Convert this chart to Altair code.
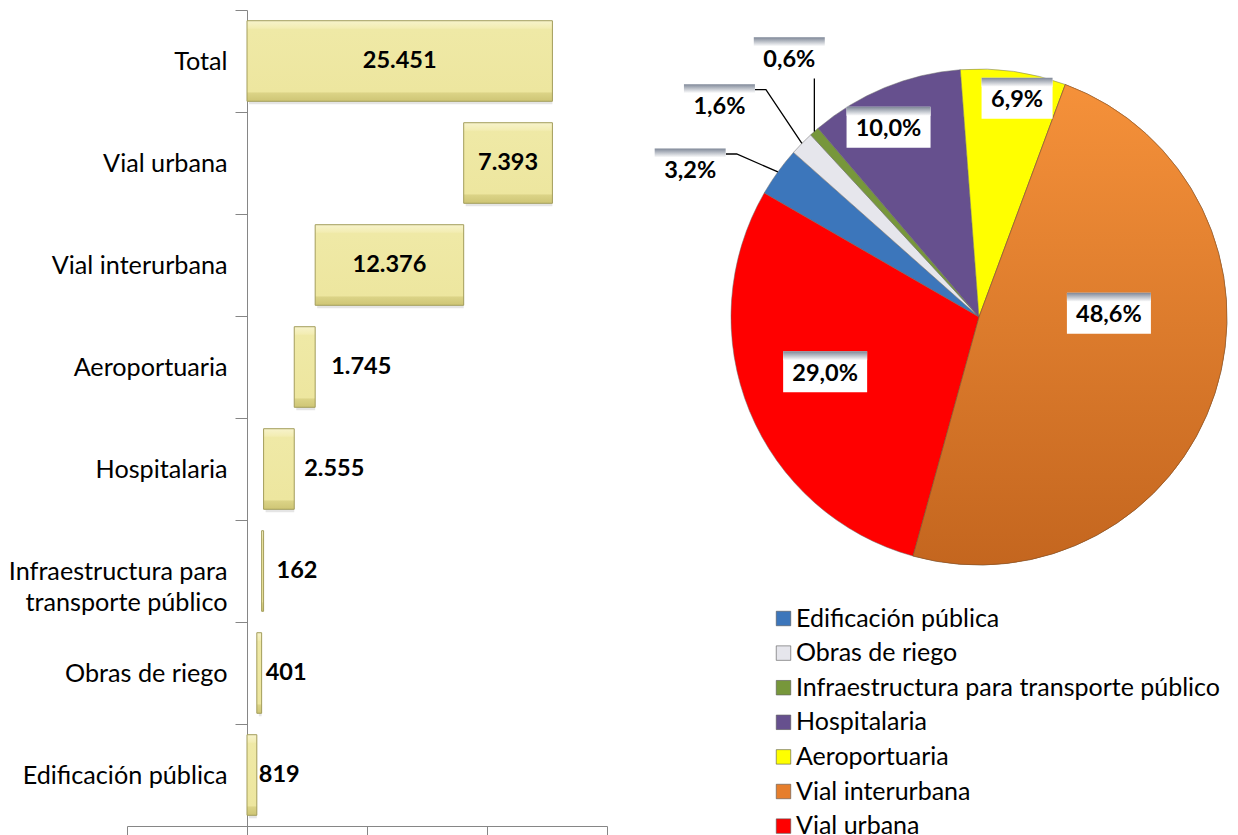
import math
import altair as alt
import pandas as pd

# ---------------- data ----------------
CATS = ["Edificación pública", "Obras de riego", "Infraestructura para transporte público",
        "Hospitalaria", "Aeroportuaria", "Vial interurbana", "Vial urbana"]
VALUES = [819, 401, 162, 2555, 1745, 12376, 7393]
TOTAL_NAME = "Total"
TOTAL = 25451
PIE_COLORS = ["#3C76BB", "#E6E6EC", "#77973B", "#66508E", "#FFFF00", "#E67E2C", "#FF0000"]
X_TICKS = [-10000, 0, 10000, 20000, 30000]

# ---------------- layout / style ----------------
FONT = "Lato"
AXIS_FS = 25.2
LEG_FS = 25
VAL_FS = 23.5
W1, H1 = 480, 816
SPACING = 122
XDOM = [-10000, 30000]
PPU = W1 / (XDOM[1] - XDOM[0])
INSIDE_MIN_PX = 80
OUT_DX_PX = {"Edificación pública": 2, "Obras de riego": 4,
             "Infraestructura para transporte público": 13,
             "Hospitalaria": 10, "Aeroportuaria": 16}
W2, H2 = 500, 614
R = 248
START_DEG = 300
# label placement: (angle shift from slice middle in degrees, radius in px)
LABEL_POLAR = {"Edificación pública": (-8.5, 325), "Obras de riego": (-5, 336),
               "Infraestructura para transporte público": (5.5, 322),
               "Hospitalaria": (-3, 211), "Aeroportuaria": (1.8, 223),
               "Vial interurbana": (-20, 130), "Vial urbana": (3, 163)}
OUTER = ["Edificación pública", "Obras de riego", "Infraestructura para transporte público"]


def fmt_thousands(v):
    return f"{v:,}".replace(",", ".")


# ---------------- waterfall ----------------
rows = []
cum = 0
for c, v in zip(CATS, VALUES):
    rows.append({"cat": c, "start": cum, "end": cum + v, "value": v})
    cum += v
rows.append({"cat": TOTAL_NAME, "start": 0, "end": TOTAL, "value": TOTAL})
wf = pd.DataFrame(rows)
wf["label"] = wf["value"].map(fmt_thousands)
wf["inside"] = (wf["end"] - wf["start"]) * PPU > INSIDE_MIN_PX
wf["lx"] = [
    (s + e) / 2 if ins else e + OUT_DX_PX.get(c, 6) / PPU
    for s, e, ins, c in zip(wf["start"], wf["end"], wf["inside"], wf["cat"])
]

ORDER = [TOTAL_NAME] + CATS[::-1]
AX = "#868686"

y_enc = alt.Y(
    "cat:N", sort=ORDER, title=None,
    scale=alt.Scale(paddingInner=0, paddingOuter=0),
    axis=alt.Axis(offset=-120, tickBand="extent", tickSize=12, labelPadding=8,
                  labelFontSize=AXIS_FS, labelFont=FONT, labelColor="#000000",
                  domainColor=AX, tickColor=AX, labelLimit=400, labelLineHeight=31,
                  labelExpr="datum.label == 'Infraestructura para transporte público' ? "
                            "['Infraestructura para', 'transporte público'] : datum.label"),
)
x_scale = alt.Scale(domain=XDOM, nice=False, zero=False)

bar_grad = alt.Gradient(
    gradient="linear", x1=0, x2=0, y1=0, y2=1,
    stops=[alt.GradientStop(offset=0, color="#F7F3CC"),
           alt.GradientStop(offset=0.09, color="#F3EDB3"),
           alt.GradientStop(offset=0.11, color="#EFE9A6"),
           alt.GradientStop(offset=0.88, color="#EDE69F"),
           alt.GradientStop(offset=0.9, color="#DBD386"),
           alt.GradientStop(offset=1, color="#CEC575")],
)

shadow = alt.Chart(wf).mark_bar(color="#000000", opacity=0.10,
                                height=alt.RelativeBandSize(0.79), xOffset=2, yOffset=3).encode(
    x=alt.X("start:Q", scale=x_scale), x2="end:Q", y=y_enc)
bars = alt.Chart(wf).mark_bar(color=bar_grad, stroke="#A39D5B", strokeWidth=1,
                              height=alt.RelativeBandSize(0.79)).encode(
    x=alt.X("start:Q", scale=x_scale,
            axis=alt.Axis(values=X_TICKS, labels=False, tickSize=10, grid=False, title=None,
                          domainColor=AX, tickColor=AX)),
    x2="end:Q",
    y=y_enc,
)
txt_in = alt.Chart(wf).transform_filter("datum.inside").mark_text(
    font=FONT, fontSize=VAL_FS, fontWeight="bold", color="#000000", align="center", baseline="middle"
).encode(x=alt.X("lx:Q", scale=x_scale), y=y_enc, text="label:N")
txt_out = alt.Chart(wf).transform_filter("!datum.inside").mark_text(
    font=FONT, fontSize=VAL_FS, fontWeight="bold", color="#000000", align="left", baseline="middle"
).encode(x=alt.X("lx:Q", scale=x_scale), y=y_enc, text="label:N")

left = alt.layer(shadow, bars, txt_in, txt_out).properties(width=W1, height=H1)

# ---------------- pie ----------------
a0 = math.radians(START_DEG)
pie = pd.DataFrame({"cat": CATS, "value": VALUES, "idx": list(range(len(CATS)))})
pie["pct"] = [f"{round(v / TOTAL * 100, 1):.1f}".replace(".", ",") + "%" for v in VALUES]

theta_scale = alt.Scale(domain=[0, TOTAL], range=[a0, a0 + 2 * math.pi])
base = alt.Chart(pie).transform_window(
    c1="sum(value)", sort=[alt.SortField("idx")], frame=[None, 0]
).transform_calculate(c0="datum.c1 - datum.value")

arcs = base.mark_arc(radius=R, stroke="#6b6b6b", strokeWidth=0.5).encode(
    theta=alt.Theta("c0:Q", scale=theta_scale),
    theta2="c1:Q",
    color=alt.Color("cat:N", scale=alt.Scale(domain=CATS, range=PIE_COLORS),
                    legend=alt.Legend(orient="none", legendX=W1 + SPACING + 42, legendY=596,
                                      title=None,
                                      labelFont=FONT, labelFontSize=LEG_FS, labelColor="#000000",
                                      symbolType="square", symbolSize=210, symbolStrokeWidth=0.6,
                                      symbolStrokeColor="#555555", rowPadding=8.6,
                                      labelOffset=0, labelLimit=600)),
)
orange_grad = alt.Gradient(
    gradient="linear", x1=0, x2=0, y1=0, y2=1,
    stops=[alt.GradientStop(offset=0, color="#F5913A"),
           alt.GradientStop(offset=1, color="#C4661F")],
)
orange = base.transform_filter("datum.cat == 'Vial interurbana'").mark_arc(
    radius=R, color=orange_grad, stroke="#7a4a20", strokeWidth=0.5
).encode(theta=alt.Theta("c0:Q", scale=theta_scale), theta2="c1:Q")

# label geometry derived from slice angles
cums = pd.Series(VALUES).cumsum()
lab_rows, line_rows = [], []
for i, (c, v, p) in enumerate(zip(CATS, VALUES, pie["pct"])):
    mid_v = cums[i] - v / 2
    mid = a0 + 2 * math.pi * mid_v / TOTAL
    shift, rr = LABEL_POLAR[c]
    ang = mid + math.radians(shift)
    cx = W2 / 2 + rr * math.sin(ang)
    cy = H2 / 2 - rr * math.cos(ang)
    bw = 84 if len(p) > 4 else 71
    bh = 41
    lab_rows.append({"cat": c, "pct": p, "cx": cx, "cy": cy + 3,
                     "bx": cx - bw / 2, "bx2": cx + bw / 2,
                     "by": cy - bh / 2 + 1, "by2": cy + bh / 2 + 1,
                     "gy2": cy - bh / 2 + 10})
    if c in OUTER:
        ex = W2 / 2 + R * math.sin(mid)
        ey = H2 / 2 - R * math.cos(mid)
        if c == "Infraestructura para transporte público":
            pts = [(ex, ey), (ex, cy + bh / 2 + 1)]
        else:
            pts = [(ex, ey), (cx + bw / 2 + 11, cy - 14), (cx + bw / 2, cy - 14)]
        for k, (px, py) in enumerate(pts):
            line_rows.append({"cat": c, "k": k, "px": px, "py": py})
labs = pd.DataFrame(lab_rows)
lines = pd.DataFrame(line_rows)

band_grad = alt.Gradient(
    gradient="linear", x1=0, x2=0, y1=0, y2=1,
    stops=[alt.GradientStop(offset=0, color="#7E8797"),
           alt.GradientStop(offset=1, color="#FFFFFF")],
)
leaders = alt.Chart(lines).mark_line(color="#000000", strokeWidth=1.3).encode(
    x=alt.X("px:Q", scale=None), y=alt.Y("py:Q", scale=None), detail="cat:N", order="k:Q")
boxes = alt.Chart(labs).mark_rect(color="#FFFFFF").encode(
    x=alt.X("bx:Q", scale=None), x2="bx2:Q", y=alt.Y("by:Q", scale=None), y2="by2:Q")
bands = alt.Chart(labs).mark_rect(color=band_grad).encode(
    x=alt.X("bx:Q", scale=None), x2="bx2:Q", y=alt.Y("by:Q", scale=None), y2="gy2:Q")
ptxt = alt.Chart(labs).mark_text(font=FONT, fontSize=VAL_FS, fontWeight="bold", color="#000000",
                                 align="center", baseline="middle").encode(
    x=alt.X("cx:Q", scale=None), y=alt.Y("cy:Q", scale=None), text="pct:N")

right = alt.layer(arcs, orange, leaders, boxes, bands, ptxt).properties(width=W2, height=H2)

chart = alt.hconcat(left, right, spacing=SPACING, bounds="flush").properties(
    padding={"top": -10, "left": 0, "right": 0, "bottom": 0}
).configure_view(stroke=None)

chart.save("out.html", embed_options={"renderer": "svg", "actions": False})
